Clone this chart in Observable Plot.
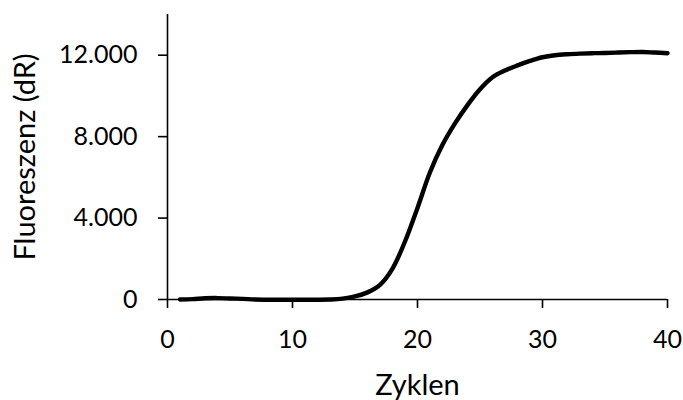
<!DOCTYPE html>
<html>
<head>
<meta charset="utf-8">
<script src="https://cdn.jsdelivr.net/npm/d3@7"></script>
<script src="https://cdn.jsdelivr.net/npm/@observablehq/plot@0.6"></script>
<style>
  html, body { margin: 0; padding: 0; background: #fff; }
</style>
</head>
<body>
<div id="chart"></div>
<script>
// Data
const cycles = [1,2,3,4,5,6,7,8,9,10,11,12,13,14,15,16,17,18,19,20,21,22,23,24,25,26,27,28,29,30,31,32,33,34,35,36,37,38,39,40];
const fluorescence = [0,20,60,70,50,30,0,-10,-10,-10,-10,-10,0,40,150,350,720,1520,2850,4500,6250,7600,8650,9550,10330,10920,11250,11500,11720,11900,12000,12050,12080,12100,12110,12130,12150,12160,12130,12100];
const xTicks = [0, 10, 20, 30, 40];
const yTicks = [0, 4000, 8000, 12000];
const yTickLabels = ["0", "4.000", "8.000", "12.000"];
const xLabel = "Zyklen";
const yLabel = "Fluoreszenz (dR)";

const data = cycles.map((c, i) => ({cycle: c, value: fluorescence[i]}));

const chart = Plot.plot({
  width: 683,
  height: 400,
  marginLeft: 167,
  marginRight: 16,
  marginTop: 14,
  marginBottom: 101,
  style: {fontFamily: "Lato, 'Open Sans', sans-serif", fontSize: "25px", color: "#000", background: "#fff"},
  x: {domain: [0, 40]},
  y: {domain: [0, 14000]},
  marks: [
    Plot.axisX({ticks: xTicks, tickSize: 9, tickPadding: 22, strokeWidth: 1.6, label: null, fontSize: 25}),
    Plot.axisY({ticks: yTicks, tickFormat: d => yTickLabels[yTicks.indexOf(d)], tickSize: 9, tickPadding: 21, strokeWidth: 1.6, label: null, fontSize: 25}),
    Plot.text([xLabel], {frameAnchor: "bottom", dy: 95, lineAnchor: "bottom", textAnchor: "middle", fontSize: 29, fill: "#000"}),
    Plot.text([yLabel], {frameAnchor: "left", dx: -153, rotate: -90, lineAnchor: "top", textAnchor: "middle", fontSize: 29, fill: "#000"}),
    Plot.ruleY([0], {stroke: "#000", strokeWidth: 1.6}),
    Plot.ruleX([0], {stroke: "#000", strokeWidth: 1.6}),
    Plot.line(data, {x: "cycle", y: "value", stroke: "#000", strokeWidth: 4.4, curve: "catmull-rom"})
  ]
});
document.getElementById("chart").appendChild(chart);
</script>
</body>
</html>
